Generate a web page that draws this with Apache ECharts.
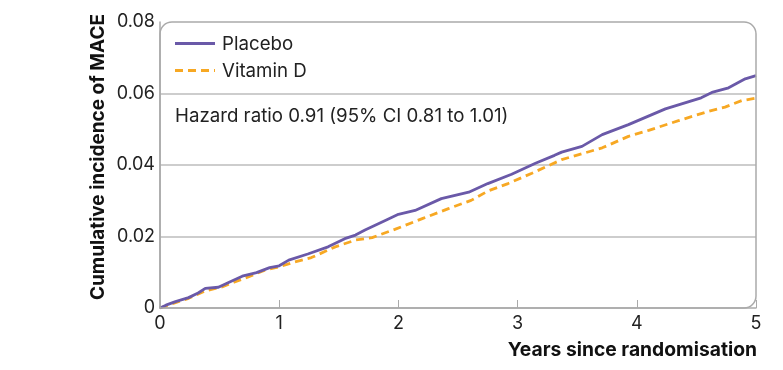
<!DOCTYPE html>
<html><head><meta charset="utf-8">
<script src="https://cdn.jsdelivr.net/npm/echarts@6/dist/echarts.min.js"></script>
<style>html,body{margin:0;padding:0;background:#fff}#c{width:783px;height:370px}</style>
</head><body><div id="c"></div>
<script>
const seriesNames = ['Placebo', 'Vitamin D'];
const placeboTimes = [0,0.05,0.13,0.24,0.32,0.38,0.49,0.58,0.69,0.81,0.92,1.0,1.08,1.24,1.41,1.55,1.64,1.72,1.89,2.0,2.14,2.36,2.59,2.75,2.95,3.15,3.31,3.37,3.54,3.71,3.93,4.24,4.54,4.63,4.77,4.91,5.0];
const placeboValues = [0,0.0008,0.0018,0.0029,0.0042,0.0055,0.0058,0.0072,0.0089,0.0099,0.0113,0.0118,0.0134,0.0151,0.0171,0.0194,0.0204,0.0218,0.0245,0.0262,0.0273,0.0306,0.0324,0.0348,0.0374,0.0405,0.0427,0.0436,0.0452,0.0485,0.0513,0.0557,0.0588,0.0603,0.0616,0.0641,0.0650];
const vitdTimes = [0,0.13,0.24,0.38,0.52,0.62,0.74,0.88,1.0,1.13,1.27,1.47,1.64,1.78,1.97,2.2,2.42,2.61,2.75,2.92,3.12,3.37,3.71,3.93,4.1,4.35,4.6,4.74,4.88,5.0];
const vitdValues = [0,0.0015,0.0027,0.0048,0.0059,0.0072,0.0087,0.0106,0.0115,0.0129,0.0141,0.0171,0.0190,0.0197,0.0220,0.0250,0.0278,0.0301,0.0327,0.0348,0.0377,0.0415,0.0448,0.0480,0.0497,0.0524,0.0550,0.0562,0.0580,0.0587];
const hazardText = 'Hazard ratio 0.91 (95% CI 0.81 to 1.01)';
const xTitle = 'Years since randomisation';
const yTitle = 'Cumulative incidence of MACE';

const FONT = 'Inter, sans-serif';
const COLORS = ['#6a59a8', '#f7a823'];
const G = {left:160, top:22, right:27, bottom:62};
const W = 783, H = 370;
const chart = echarts.init(document.getElementById('c'), null, {renderer:'canvas'});
const pair = (t, v) => t.map((x, i) => [x, v[i]]);
const txt = {fontFamily:FONT, fontSize:18.7, fill:'#222'};
chart.setOption({
  animation:false,
  grid:{left:G.left, top:G.top, right:G.right, bottom:G.bottom},
  xAxis:{
    type:'value', min:0, max:5, interval:1,
    axisLine:{lineStyle:{color:'#aaa', width:1.5}},
    axisTick:{inside:true, length:8, lineStyle:{color:'#aaa'}},
    axisLabel:{fontFamily:FONT, fontSize:18, color:'#222', margin:7},
    splitLine:{show:false}
  },
  yAxis:{
    type:'value', min:0, max:0.08, interval:0.02,
    axisLine:{show:true, lineStyle:{color:'#aaa', width:1.5}},
    axisTick:{show:false},
    axisLabel:{fontFamily:FONT, fontSize:18, color:'#222', margin:5, formatter:v => v === 0 ? '0' : v.toFixed(2)},
    splitLine:{show:true, lineStyle:{color:['transparent','#bdbdbd','#bdbdbd','#bdbdbd','transparent'], width:1.5}}
  },
  graphic:[
    {type:'rect', silent:true, z:5,
     shape:{x:G.left, y:G.top, width:W-G.left-G.right, height:H-G.top-G.bottom, r:[12,12,12,0]},
     style:{fill:'none', stroke:'#aaa', lineWidth:1.5}},
    {type:'line', z:10, shape:{x1:175, y1:43.5, x2:215, y2:43.5}, style:{stroke:COLORS[0], lineWidth:2.8}},
    {type:'text', z:10, x:222, y:44, style:Object.assign({text:seriesNames[0], verticalAlign:'middle'}, txt)},
    {type:'line', z:10, shape:{x1:175, y1:70.5, x2:215, y2:70.5}, style:{stroke:COLORS[1], lineWidth:2.8, lineDash:[8,5]}},
    {type:'text', z:10, x:222, y:71, style:Object.assign({text:seriesNames[1], verticalAlign:'middle'}, txt)},
    {type:'text', z:10, x:175, y:116, style:Object.assign({text:hazardText, verticalAlign:'middle'}, txt)},
    {type:'text', z:10, x:757, y:350, style:{text:xTitle, fontFamily:FONT, fontSize:19.3, fontWeight:'bold', fill:'#111', align:'right', verticalAlign:'middle'}},
    {type:'text', z:10, x:98, y:157, rotation:Math.PI/2, style:{text:yTitle, fontFamily:FONT, fontSize:19, fontWeight:'bold', fill:'#111', align:'center', verticalAlign:'middle'}}
  ],
  series:[
    {name:seriesNames[0], type:'line', data:pair(placeboTimes, placeboValues), showSymbol:false, symbol:'none',
     lineStyle:{color:COLORS[0], width:2.8}, itemStyle:{color:COLORS[0]}, z:3},
    {name:seriesNames[1], type:'line', data:pair(vitdTimes, vitdValues), showSymbol:false, symbol:'none',
     lineStyle:{color:COLORS[1], width:2.8, type:[8,5]}, itemStyle:{color:COLORS[1]}, z:2}
  ]
});
</script></body></html>
